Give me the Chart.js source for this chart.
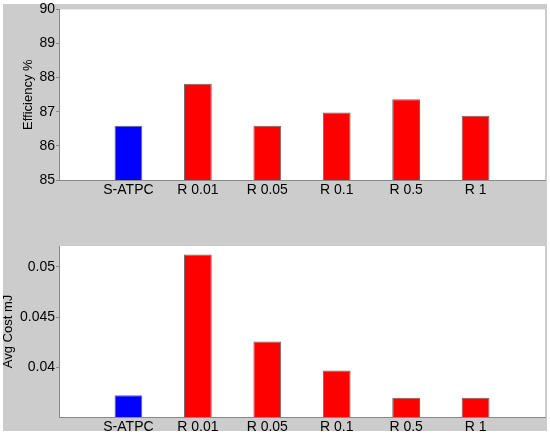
<!DOCTYPE html>
<html>
<head>
<meta charset="utf-8">
<script src="https://cdn.jsdelivr.net/npm/chart.js@4/dist/chart.umd.min.js"></script>
<style>
  html, body { margin: 0; padding: 0; background: #ffffff; }
  #bg { position: absolute; left: 3px; top: 4px; width: 544px; height: 427px; background: #cccccc; }
  .wrap { position: absolute; left: 0; width: 550px; }
  #w1 { top: 0; height: 220px; }
  #w2 { top: 220px; height: 216px; }
</style>
</head>
<body>
<div id="bg"></div>
<div class="wrap" id="w1"><canvas id="c1" width="550" height="220"></canvas></div>
<div class="wrap" id="w2"><canvas id="c2" width="550" height="216"></canvas></div>
<script>
// ---- data ----
const categories = ['S-ATPC', 'R 0.01', 'R 0.05', 'R 0.1', 'R 0.5', 'R 1'];
const efficiency = [86.59, 87.82, 86.59, 86.98, 87.37, 86.88];
const avgCost = [0.03718, 0.05126, 0.04254, 0.03966, 0.03692, 0.03692];
const efficiencyTicks = [85, 86, 87, 88, 89, 90];
const costTicks = [0.04, 0.045, 0.05];
const barColors = ['#0000ff', '#ff0000', '#ff0000', '#ff0000', '#ff0000', '#ff0000'];

// pad one empty slot on each side so the axis spans 0..7 like the original
const labels = [''].concat(categories, ['']);
const pad = arr => [null].concat(arr, [null]);

const whiteArea = {
  id: 'whiteArea',
  beforeDraw(chart) {
    const a = chart.chartArea, ctx = chart.ctx;
    ctx.save();
    ctx.fillStyle = '#ffffff';
    ctx.fillRect(a.left, a.top, a.right - a.left, a.bottom - a.top);
    ctx.restore();
  }
};

const FONT = 'Liberation Sans, Arial, sans-serif';

function makeChart(id, values, yMin, yMax, ticks, title, titlePad, padTop, xAxisH) {
  return new Chart(document.getElementById(id), {
    type: 'bar',
    data: {
      labels: labels,
      datasets: [{
        data: pad(values),
        backgroundColor: pad(barColors),
        borderColor: '#6a6a6a',
        borderWidth: 1,
        borderSkipped: false,
        categoryPercentage: 1.0,
        barPercentage: 0.4
      }]
    },
    options: {
      responsive: false,
      animation: false,
      events: [],
      layout: { padding: { left: 0, right: 5, top: padTop, bottom: 0 } },
      plugins: { legend: { display: false }, tooltip: { enabled: false } },
      scales: {
        x: {
          type: 'category',
          offset: false,
          grid: { display: true, drawOnChartArea: false, drawTicks: false },
          border: { display: true, color: '#888888', width: 1 },
          ticks: {
            autoSkip: false, maxRotation: 0, minRotation: 0, padding: 2,
            color: '#000000', font: { family: FONT, size: 14 }
          },
          afterFit(s) { s.height = xAxisH; }
        },
        y: {
          min: yMin, max: yMax,
          afterBuildTicks(s) { s.ticks = ticks.map(v => ({ value: v })); },
          grid: { drawOnChartArea: false, drawTicks: true, tickLength: 3, tickColor: '#888888' },
          border: { display: true, color: '#888888', width: 1 },
          ticks: {
            padding: 1, color: '#000000', font: { family: FONT, size: 14 },
            callback: v => String(v)
          },
          title: {
            display: true, text: title, color: '#000000',
            font: { family: FONT, size: 13 },
            padding: { top: titlePad, bottom: 0 }
          },
          afterFit(s) { s.width = 59; }
        }
      }
    },
    plugins: [whiteArea]
  });
}

makeChart('c1', efficiency, 85, 90, efficiencyTicks, 'Efficiency %', 21, 8, 40);
makeChart('c2', avgCost, 0.035, 0.0521, costTicks, 'Avg Cost mJ', 1, 26, 19);
</script>
</body>
</html>
